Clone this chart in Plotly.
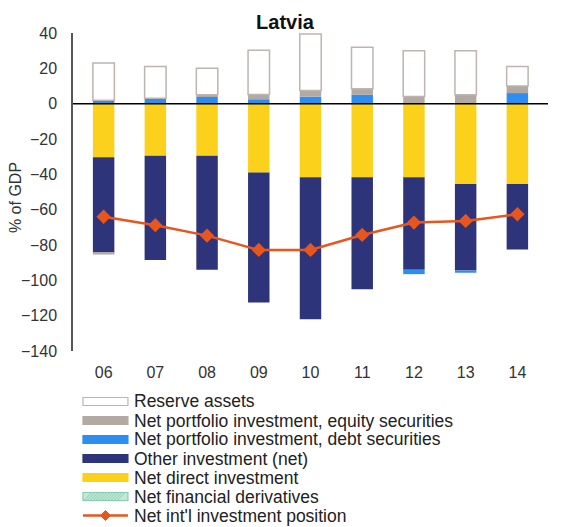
import plotly.graph_objects as go

# ---- data ----
years = ["06", "07", "08", "09", "10", "11", "12", "13", "14"]
reserve_assets = [21, 18, 15, 25, 32, 23.5, 26, 25, 11]
portfolio_equity = [-1, 0, 1, 2.7, 3.5, 3.5, 4, 5, 4]
portfolio_debt = [2, 3, 4, 2.5, 4, 5, -2.5, -1.2, 6]
other_investment = [-54, -59, -64.5, -73.6, -80.3, -63.3, -52.3, -49, -37]
direct_investment = [-30.4, -29.5, -29.5, -38.9, -41.7, -41.7, -41.7, -45.5, -45.5]
financial_derivatives = [0, 0, 0, 0, 0, 0, 0, 0, 0]
niip = [-64, -68.8, -74.7, -82.8, -82.8, -74.3, -67.3, -66.4, -62.6]

legend_labels = [
    "Reserve assets",
    "Net portfolio investment, equity securities",
    "Net portfolio investment, debt securities",
    "Other investment (net)",
    "Net direct investment",
    "Net financial derivatives",
    "Net int'l investment position",
]

# ---- style ----
C_RES_FILL, C_RES_LINE = "#ffffff", "#bdb5b1"
C_EQ = "#b3a9a3"
C_DEBT = "#2b8ef0"
C_OTHER = "#2e3479"
C_DIRECT = "#fbd11b"
C_DERIV = "#c4e8d8"
C_DERIV_HATCH = "#86cdb0"
C_NIIP = "#e8561e"
FONT = "Liberation Sans, Arial, sans-serif"

# the page body has an 8px margin: lay out in window pixels, then offset
OFF = 8
WIN_W, WIN_H = 565, 527
W, H = WIN_W - OFF, WIN_H - OFF
PL, PR, PT, PB = 73, 548.5, 33, 351          # plot area in window pixels
ML, MR, MT, MB = PL - OFF, WIN_W - PR, PT - OFF, WIN_H - PB
PW, PH = W - ML - MR, H - MT - MB

fig = go.Figure()
bar_common = dict(x=years, showlegend=False)
fig.add_trace(go.Bar(y=direct_investment, name=legend_labels[4], marker=dict(color=C_DIRECT, line=dict(width=0)), **bar_common))
fig.add_trace(go.Bar(y=other_investment, name=legend_labels[3], marker=dict(color=C_OTHER, line=dict(width=0)), **bar_common))
fig.add_trace(go.Bar(y=portfolio_debt, name=legend_labels[2], marker=dict(color=C_DEBT, line=dict(width=0)), **bar_common))
fig.add_trace(go.Bar(y=portfolio_equity, name=legend_labels[1], marker=dict(color=C_EQ, line=dict(width=0)), **bar_common))
fig.add_trace(go.Bar(y=financial_derivatives, name=legend_labels[5],
                     marker=dict(color=C_DERIV, line=dict(width=0), pattern=dict(shape="/", fgcolor=C_DERIV_HATCH)), **bar_common))
fig.add_trace(go.Bar(y=reserve_assets, name=legend_labels[0], marker=dict(color=C_RES_FILL, line=dict(color=C_RES_LINE, width=1.5)), **bar_common))
fig.add_trace(go.Scatter(x=years, y=niip, name=legend_labels[6], mode="lines+markers", showlegend=False,
                         line=dict(color=C_NIIP, width=2.5),
                         marker=dict(symbol="diamond", size=11, color=C_NIIP)))

# zero line on top of bars
fig.add_shape(type="line", xref="paper", yref="y", x0=0, x1=1, y0=0, y1=0,
              line=dict(color="#000000", width=1.5), layer="above")

# ---- manual legend (window pixel layout -> paper coords) ----
def px(xp):
    return (xp - PL) / PW

def py(yp):
    return (PB - yp) / PH

sym_x0, sym_x1, txt_x = 83, 128, 132
row0, step = 401.5, 19.0
sym_h = 8
styles = [
    ("rect", C_RES_FILL, C_RES_LINE),
    ("rect", C_EQ, C_EQ),
    ("rect", C_DEBT, C_DEBT),
    ("rect", C_OTHER, C_OTHER),
    ("rect", C_DIRECT, C_DIRECT),
    ("hatch", C_DERIV, C_DERIV_HATCH),
    ("line", C_NIIP, C_NIIP),
]
for i, (lab, (kind, fc, lc)) in enumerate(zip(legend_labels, styles)):
    yc = row0 + i * step
    if kind in ("rect", "hatch"):
        fig.add_shape(type="rect", xref="paper", yref="paper",
                      x0=px(sym_x0), x1=px(sym_x1), y0=py(yc - sym_h / 2), y1=py(yc + sym_h / 2),
                      fillcolor=fc, line=dict(color=lc, width=1.2))
        if kind == "hatch":
            xs = sym_x0 + 1
            while xs + sym_h <= sym_x1 - 1:
                fig.add_shape(type="line", xref="paper", yref="paper",
                              x0=px(xs), x1=px(xs + sym_h), y0=py(yc + sym_h / 2), y1=py(yc - sym_h / 2),
                              line=dict(color=lc, width=1))
                xs += 3
    else:
        fig.add_shape(type="line", xref="paper", yref="paper",
                      x0=px(sym_x0), x1=px(sym_x1), y0=py(yc), y1=py(yc),
                      line=dict(color=fc, width=2.5))
        xc = (sym_x0 + sym_x1) / 2
        d = 5
        path = "M {},{} L {},{} L {},{} L {},{} Z".format(
            px(xc - d), py(yc), px(xc), py(yc - d), px(xc + d), py(yc), px(xc), py(yc + d))
        fig.add_shape(type="path", xref="paper", yref="paper", path=path,
                      fillcolor=fc, line=dict(color=fc, width=1))
    fig.add_annotation(xref="paper", yref="paper", x=px(txt_x), y=py(yc),
                       xanchor="left", yanchor="middle", showarrow=False,
                       text=lab, font=dict(family=FONT, size=17.5, color="#222222"))

# y-axis title
fig.add_annotation(xref="paper", yref="paper", x=px(15), y=py(198), textangle=-90,
                   xanchor="center", yanchor="middle", showarrow=False,
                   text="% of GDP", font=dict(family=FONT, size=16, color="#333333"))

fig.update_layout(
    width=W, height=H,
    margin=dict(l=ML, r=MR, t=MT, b=MB, autoexpand=False),
    paper_bgcolor="#ffffff", plot_bgcolor="#ffffff",
    barmode="relative", bargap=0.585,
    showlegend=False,
    font=dict(family=FONT, size=16, color="#333333"),
    title=dict(text="<b>Latvia</b>", x=(285 - OFF) / W, xanchor="center",
               y=1 - (21.5 - OFF) / H, yanchor="middle", automargin=False,
               font=dict(family=FONT, size=20, color="#111111")),
    xaxis=dict(type="category", showline=False, showgrid=False, zeroline=False, ticks="",
               automargin=False,
               tickfont=dict(size=16, color="#333333"), ticklabelstandoff=10),
    yaxis=dict(range=[-140, 40], dtick=20, showgrid=False, zeroline=False,
               showline=True, linecolor="#555555", linewidth=1.5, ticks="",
               automargin=False,
               tickfont=dict(size=16, color="#333333"), ticklabelstandoff=11),
)

fig.write_html("out.html")
